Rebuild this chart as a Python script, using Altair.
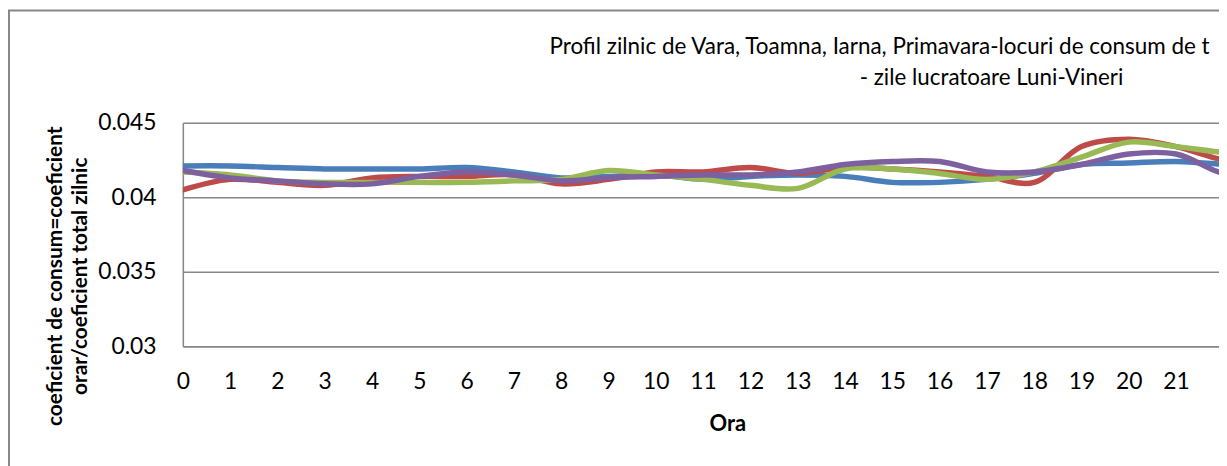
import altair as alt
import pandas as pd

hours = list(range(24))
x_tick_values = list(range(22))
series_names = ["Vara", "Toamna", "Iarna", "Primavara"]
series_colors = ["#4A7EBB", "#BE4B48", "#98B954", "#7D60A0"]

vara = [0.0421, 0.0421, 0.0420, 0.0419, 0.0419, 0.0419, 0.0420, 0.0417, 0.0413, 0.0414,
        0.0415, 0.0412, 0.0414, 0.0415, 0.0414, 0.0410, 0.0410, 0.0412, 0.0416, 0.0422,
        0.0423, 0.0424, 0.0422, 0.0419]
toamna = [0.0405, 0.0412, 0.0410, 0.0408, 0.0413, 0.0414, 0.0414, 0.0415, 0.0409, 0.0412,
          0.0417, 0.0417, 0.0420, 0.0416, 0.0420, 0.0419, 0.0417, 0.0414, 0.0410, 0.0434,
          0.0439, 0.0434, 0.0425, 0.0420]
iarna = [0.0417, 0.0415, 0.0411, 0.0410, 0.0410, 0.0410, 0.0410, 0.0411, 0.0412, 0.0418,
         0.0415, 0.0412, 0.0408, 0.0406, 0.0419, 0.0419, 0.0416, 0.0412, 0.0417, 0.0427,
         0.0437, 0.0434, 0.0430, 0.0428]
primavara = [0.0418, 0.0413, 0.0411, 0.0409, 0.0409, 0.0414, 0.0417, 0.0415, 0.0411, 0.0413,
             0.0414, 0.0415, 0.0415, 0.0417, 0.0422, 0.0424, 0.0424, 0.0417, 0.0417, 0.0422,
             0.0429, 0.0429, 0.0416, 0.0414]

y_ticks = [0.03, 0.035, 0.04, 0.045]
title_line1 = "Profil zilnic de Vara, Toamna, Iarna, Primavara-locuri de consum de t"
title_line2 = "- zile lucratoare Luni-Vineri"
y_title = ["coeficient de consum=coeficient", "orar/coeficient total zilnic"]
x_title = "Ora"

GRAY = "#878787"
FONT = "Lato"

values = [vara, toamna, iarna, primavara]
rows = []
for name, vals in zip(series_names, values):
    for h, v in zip(hours, vals):
        rows.append({"ora": h, "valoare": v, "serie": name})
df = pd.DataFrame(rows)

x_scale = alt.Scale(domain=[0, 23], range=[0, 1095], nice=False, zero=False)
y_scale = alt.Scale(domain=[0.03, 0.045], nice=False, zero=False)
color_scale = alt.Scale(domain=series_names, range=series_colors)

x_axis = alt.Axis(values=x_tick_values, title=x_title, labelFontSize=23, labelFont=FONT,
                  labelColor="black", labelPadding=25, ticks=False, grid=False,
                  domainColor=GRAY, domainWidth=1.5, labelOverlap=False, labelFlush=False,
                  titleFont=FONT, titleFontSize=22, titleFontWeight="bold", titleColor="black",
                  titleX=548, titleY=78, titleBaseline="middle")
y_axis = alt.Axis(values=y_ticks, format="~g", title=y_title, labelFontSize=23,
                  labelFont=FONT, labelColor="black", labelPadding=27, ticks=False,
                  grid=True, gridColor=GRAY, gridWidth=1.5, domainColor=GRAY, domainWidth=1.5,
                  titleFont=FONT, titleFontSize=21, titleFontWeight="bold", titleColor="black",
                  titleAngle=-90, titleX=-128, titleY=154, titleBaseline="middle",
                  titleAlign="center", titleLineHeight=25)

layers = []
frame = alt.Chart(pd.DataFrame({"k": [0]})).mark_rect(
    fill="transparent", stroke=GRAY, strokeWidth=2
).encode(x=alt.value(-175), x2=alt.value(1200), y=alt.value(-113), y2=alt.value(400))
layers.append(frame)

for name in series_names:
    line = alt.Chart(df[df["serie"] == name]).mark_line(
        interpolate="catmull-rom", strokeWidth=5.5, strokeCap="round", clip=True
    ).encode(
        x=alt.X("ora:Q", scale=x_scale, axis=x_axis),
        y=alt.Y("valoare:Q", scale=y_scale, axis=y_axis),
        color=alt.Color("serie:N", scale=color_scale, legend=None),
    )
    layers.append(line)

t1 = alt.Chart(pd.DataFrame({"t": [title_line1]})).mark_text(
    align="left", baseline="middle", font=FONT, fontSize=22.6, color="black"
).encode(text="t:N", x=alt.value(369), y=alt.value(-76))
t2 = alt.Chart(pd.DataFrame({"t": [title_line2]})).mark_text(
    align="center", baseline="middle", font=FONT, fontSize=22.5, color="black"
).encode(text="t:N", x=alt.value(814), y=alt.value(-45))
layers += [t1, t2]

chart = alt.layer(*layers).properties(
    width=1043, height=225,
    autosize=alt.AutoSizeParams(type="none"),
    padding={"left": 176, "top": 114, "right": 0, "bottom": 119},
).configure_view(stroke=GRAY, strokeWidth=1.5).configure(background="white")

chart.save("out.html", embed_options={"renderer": "svg", "actions": False})
